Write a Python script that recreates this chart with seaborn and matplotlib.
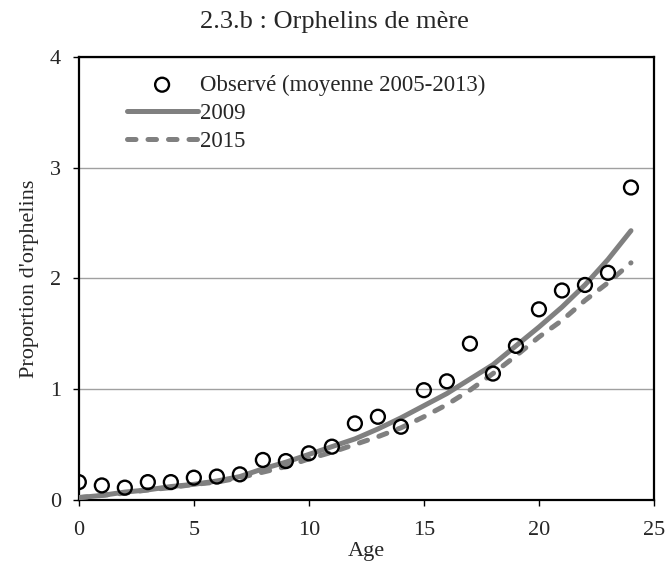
import numpy as np
import pandas as pd
import matplotlib
matplotlib.use("Agg")
import matplotlib.pyplot as plt
import seaborn as sns

# données
ages = list(range(25))
observe = [0.16, 0.13, 0.11, 0.16, 0.16, 0.20, 0.21, 0.23, 0.36, 0.35,
           0.42, 0.48, 0.69, 0.75, 0.66, 0.99, 1.07, 1.41, 1.14, 1.39,
           1.72, 1.89, 1.94, 2.05, 2.82]
proj_2009 = [0.02, 0.04, 0.07, 0.09, 0.12, 0.14, 0.17, 0.21, 0.28, 0.34,
             0.41, 0.48, 0.55, 0.64, 0.74, 0.85, 0.96, 1.09, 1.22, 1.39,
             1.56, 1.74, 1.94, 2.17, 2.43]
proj_2015 = [0.02, 0.04, 0.06, 0.09, 0.11, 0.14, 0.16, 0.20, 0.25, 0.30,
             0.37, 0.43, 0.50, 0.57, 0.65, 0.75, 0.86, 0.99, 1.14, 1.30,
             1.47, 1.62, 1.80, 1.96, 2.14]

df = pd.DataFrame({"age": ages, "obs": observe, "p2009": proj_2009, "p2015": proj_2015})

sns.set_theme(style="white")
plt.rcParams["font.family"] = ["Liberation Serif", "DejaVu Serif"]

fig = plt.figure(figsize=(6.68, 5.68), dpi=100)
ax = fig.add_axes([0.118, 0.12, 0.861, 0.78])

gris = "#808080"
sns.scatterplot(data=df, x="age", y="obs", ax=ax, marker="o", s=100,
                facecolor="none", edgecolor="black", linewidth=1.7,
                label="Observé (moyenne 2005-2013)", zorder=4)
sns.lineplot(data=df, x="age", y="p2009", ax=ax, color=gris, lw=3.6,
             label="2009", zorder=3, solid_capstyle="round")
sns.lineplot(data=df, x="age", y="p2015", ax=ax, color=gris, lw=3.6,
             linestyle=(0, (1.7, 2.4)), dash_capstyle="round",
             label="2015", zorder=3)

ax.set_xlim(0, 25)
ax.set_ylim(0, 4)
ax.set_xticks([0, 5, 10, 15, 20, 25])
ax.set_yticks([0, 1, 2, 3, 4])
ax.yaxis.grid(True, color="#a0a0a0", lw=1)
ax.set_axisbelow(True)
for sp in ax.spines.values():
    sp.set_color("black")
    sp.set_linewidth(1.6)
ax.tick_params(axis="both", labelsize=16, direction="out", length=4,
               width=1, color="black", bottom=True, left=True)
ax.tick_params(axis="x", pad=11)
ax.tick_params(axis="y", pad=9)

fig.text(0.5, 1 - 22 / 568, "2.3.b : Orphelins de mère", fontsize=19,
         ha="center", va="center")
ax.set_xlabel("Age", fontsize=16, labelpad=2)
ax.set_ylabel("Proportion d'orphelins", fontsize=16, labelpad=8)

leg = ax.legend(loc="upper left", bbox_to_anchor=(0.083, 0.96), frameon=False,
                fontsize=16.5, handlelength=3.1, handletextpad=0.12,
                labelspacing=0.32, borderpad=0, borderaxespad=0)

fig.savefig("out.png", dpi=100)
